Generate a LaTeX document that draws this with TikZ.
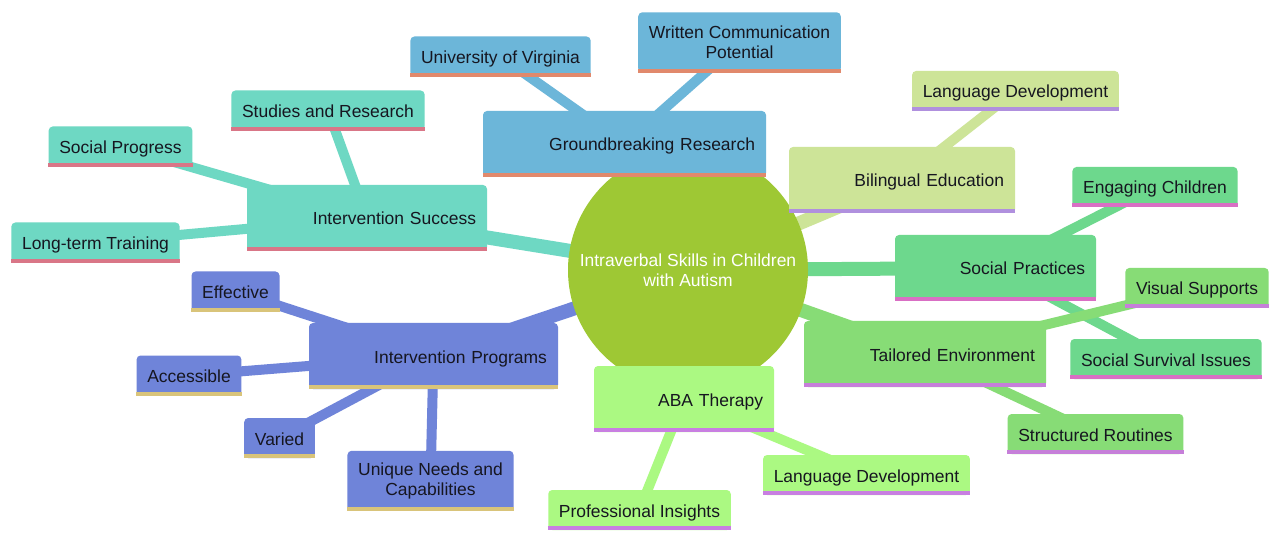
\documentclass[tikz,border=0pt]{standalone}
\usepackage{fontspec}
\setmainfont{Liberation Sans}
\usetikzlibrary{backgrounds}
\definecolor{rootgreen}{RGB}{158,200,52}
\definecolor{inkdark}{RGB}{22,22,32}
\definecolor{researchblue}{RGB}{108,182,217}
\definecolor{researchline}{RGB}{225,137,108}
\definecolor{successteal}{RGB}{110,216,195}
\definecolor{successline}{RGB}{217,118,135}
\definecolor{programblue}{RGB}{111,132,217}
\definecolor{programline}{RGB}{217,196,122}
\definecolor{abagreen}{RGB}{171,249,130}
\definecolor{abaline}{RGB}{200,127,225}
\definecolor{bilingualolive}{RGB}{205,228,152}
\definecolor{bilingualline}{RGB}{176,144,222}
\definecolor{socialgreen}{RGB}{109,216,141}
\definecolor{socialline}{RGB}{217,111,196}
\definecolor{tailoredgreen}{RGB}{135,220,118}
\definecolor{tailoredline}{RGB}{198,127,217}
\newcommand\mapfont{\fontsize{13.1}{15}\selectfont}
\tikzset{
  rootnode/.style={
    circle,
    fill=rootgreen,
    minimum size=180pt,
    inner sep=0pt,
    text=white,
    align=center,
    font=\mapfont
  },
  mainbox/.style={
    rectangle,
    rounded corners=3pt,
    fill=#1,
    text=inkdark,
    font=\mapfont,
    inner xsep=8.25pt,
    inner ysep=0pt,
    text height=10.5pt,
    text depth=0pt,
    minimum height=49.5pt,
    align=right
  },
  leafbox/.style={
    rectangle,
    rounded corners=3pt,
    fill=#1,
    text=inkdark,
    font=\mapfont,
    inner xsep=8pt,
    inner ysep=0pt,
    text height=10.5pt,
    text depth=0pt,
    minimum height=30pt,
    align=center
  },
  twolines/.style={text height={}, text depth={}, minimum height=45pt, yshift=-1pt},
  bottomstrip/.style={fill=#1},
  branchline/.style={draw=#1, line width=10.5pt},
  leafline/.style={draw=#1, line width=7.5pt}
}

\begin{document}
\begin{tikzpicture}[x=0.75pt,y=-0.75pt]

  \useasboundingbox (0,0) rectangle (1280,541);

  % Central topic.
  \node[rootnode] (root) at (688,270) {Intraverbal Skills in Children\\with Autism};

  % Groundbreaking research branch.
  \node[mainbox=researchblue,text width=195.75pt] (research) at (624.5,144) {Groundbreaking Research};
  \node[leafbox=researchblue] (virginia) at (500.5,56.5) {University of Virginia};
  \node[leafbox=researchblue,twolines] (written) at (739.5,41) {Written Communication\\Potential};

  % Intervention success branch.
  \node[mainbox=successteal,text width=163.5pt] (success) at (367,218) {Intervention Success};
  \node[leafbox=successteal] (studies) at (328,110.5) {Studies and Research};
  \node[leafbox=successteal] (progress) at (120.5,146.5) {Social Progress};
  \node[leafbox=successteal] (longterm) at (95.5,242.5) {Long-term Training};

  % Intervention programs branch.
  \node[mainbox=programblue,text width=170.25pt] (programs) at (433.5,356) {Intervention Programs};
  \node[leafbox=programblue] (effective) at (235.5,291.5) {Effective};
  \node[leafbox=programblue] (accessible) at (189,375.5) {Accessible};
  \node[leafbox=programblue] (varied) at (279.5,438) {Varied};
  \node[leafbox=programblue,twolines] (unique) at (430.5,479.5) {Unique Needs and\\Capabilities};

  % ABA therapy branch.
  \node[mainbox=abagreen,text width=118.5pt] (aba) at (684,399) {ABA Therapy};
  \node[leafbox=abagreen] (abalang) at (866.5,475) {Language Development};
  \node[leafbox=abagreen] (insights) at (639.5,510) {Professional Insights};

  % Bilingual education branch.
  \node[mainbox=bilingualolive,text width=153pt] (bilingual) at (902,180) {Bilingual Education};
  \node[leafbox=bilingualolive] (bilang) at (1015.5,91) {Language Development};

  % Social practices branch.
  \node[mainbox=socialgreen,text width=134.25pt] (social) at (995.5,268) {Social Practices};
  \node[leafbox=socialgreen] (engaging) at (1155,187) {Engaging Children};
  \node[leafbox=socialgreen] (survival) at (1166,359) {Social Survival Issues};

  % Tailored environment branch.
  \node[mainbox=tailoredgreen,text width=165pt] (tailored) at (925,354) {Tailored Environment};
  \node[leafbox=tailoredgreen] (visual) at (1197,288) {Visual Supports};
  \node[leafbox=tailoredgreen] (routines) at (1095.5,434) {Structured Routines};

  % Coloured strip along the bottom edge of every box.
  \foreach \topic/\tone in {research/researchline,virginia/researchline,written/researchline,
      success/successline,studies/successline,progress/successline,longterm/successline,
      programs/programline,effective/programline,accessible/programline,varied/programline,unique/programline,
      aba/abaline,abalang/abaline,insights/abaline,
      bilingual/bilingualline,bilang/bilingualline,
      social/socialline,engaging/socialline,survival/socialline,
      tailored/tailoredline,visual/tailoredline,routines/tailoredline}
    \fill[bottomstrip=\tone] (\topic.south west) rectangle ([yshift=3pt]\topic.south east);

  % Connectors run below all boxes, from centre to centre.
  \begin{scope}[on background layer]
    \fill[white] (0,0) rectangle (1280,541);
    \draw[branchline=researchblue] (root.center) -- (research.center);
    \draw[leafline=researchblue] (research.center) -- (virginia.center);
    \draw[leafline=researchblue] (research.center) -- (written.center);
    \draw[branchline=successteal] (root.center) -- (success.center);
    \draw[leafline=successteal] (success.center) -- (studies.center);
    \draw[leafline=successteal] (success.center) -- (progress.center);
    \draw[leafline=successteal] (success.center) -- (longterm.center);
    \draw[branchline=programblue] (root.center) -- (programs.center);
    \draw[leafline=programblue] (programs.center) -- (effective.center);
    \draw[leafline=programblue] (programs.center) -- (accessible.center);
    \draw[leafline=programblue] (programs.center) -- (varied.center);
    \draw[leafline=programblue] (programs.center) -- (unique.center);
    \draw[branchline=abagreen] (root.center) -- (aba.center);
    \draw[leafline=abagreen] (aba.center) -- (abalang.center);
    \draw[leafline=abagreen] (aba.center) -- (insights.center);
    \draw[branchline=bilingualolive] (root.center) -- (bilingual.center);
    \draw[leafline=bilingualolive] (bilingual.center) -- (bilang.center);
    \draw[branchline=socialgreen] (root.center) -- (social.center);
    \draw[leafline=socialgreen] (social.center) -- (engaging.center);
    \draw[leafline=socialgreen] (social.center) -- (survival.center);
    \draw[branchline=tailoredgreen] (root.center) -- (tailored.center);
    \draw[leafline=tailoredgreen] (tailored.center) -- (visual.center);
    \draw[leafline=tailoredgreen] (tailored.center) -- (routines.center);
  \end{scope}

\end{tikzpicture}
\end{document}
